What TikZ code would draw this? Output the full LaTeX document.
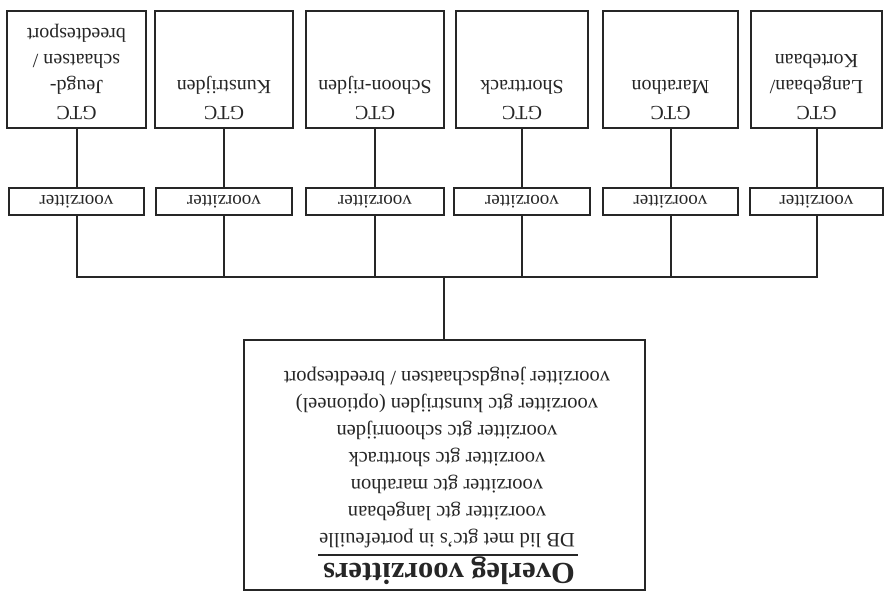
\documentclass[tikz,border=0pt]{standalone}
\usepackage{fontspec}
\setmainfont{Liberation Serif}
\definecolor{ink}{HTML}{262626}
\begin{document}
\begin{tikzpicture}[x=1pt,y=-1pt,
  box/.style={draw=ink, line width=2pt, inner sep=0pt},
  gtcbox/.style={box, minimum height=117pt},
  vzbox/.style={box, minimum height=27pt},
  conn/.style={draw=ink, line width=2pt},
  flip/.style={rotate=180, inner sep=0pt, align=center, text=ink, font=\fontsize{20}{26}\selectfont},
  bodytxt/.style={rotate=180, inner sep=0pt, align=center, text=ink, font=\fontsize{20.5}{27}\selectfont}]
\useasboundingbox (0,0) rectangle (884,592);
\fill[white] (0,0) rectangle (884,592);

% GTC boxes
\node[gtcbox, minimum width=139pt] (g1) at (76.5,69.5) {};
\node[gtcbox, minimum width=138pt] (g2) at (224,69.5) {};
\node[gtcbox, minimum width=138pt] (g3) at (375,69.5) {};
\node[gtcbox, minimum width=132pt] (g4) at (522,69.5) {};
\node[gtcbox, minimum width=135pt] (g5) at (670.5,69.5) {};
\node[gtcbox, minimum width=131pt] (g6) at (816.5,69.5) {};

\node[flip, anchor=north] (g1t) at (76.5,120) {GTC\\Jeugd-\\schaatsen /\\breedtesport};
\node[flip, anchor=north] (g2t) at (224,120) {GTC\\Kunstrijden};
\node[flip, anchor=north] (g3t) at (375,120) {GTC\\Schoon-rijden};
\node[flip, anchor=north] (g4t) at (522,120) {GTC\\Shorttrack};
\node[flip, anchor=north] (g5t) at (670.5,120) {GTC\\Marathon};
\node[flip, anchor=north] (g6t) at (816.5,120) {GTC\\Langebaan/\\Kortebaan};

% voorzitter boxes
\node[vzbox, minimum width=135pt] (v1) at (76.5,201.5) {};
\node[vzbox, minimum width=136pt] (v2) at (224,201.5) {};
\node[vzbox, minimum width=138pt] (v3) at (375,201.5) {};
\node[vzbox, minimum width=136pt] (v4) at (522,201.5) {};
\node[vzbox, minimum width=135pt] (v5) at (670.5,201.5) {};
\node[vzbox, minimum width=133pt] (v6) at (816.5,201.5) {};
\foreach \i in {1,...,6}{
  \node[bodytxt, font=\fontsize{19}{23}\selectfont] (v\i t) at (v\i) {voorzitter};
}

% connectors GTC -> voorzitter
\foreach \i in {1,...,6}{
  \draw[conn] (g\i.south) -- (v\i.north);
}

% overleg box
\node[box, minimum width=401pt, minimum height=250pt] (ov) at (444,465) {};
\node[bodytxt, anchor=north] (ovt) at (447,548.5) {DB lid met gtc's in portefeuille\\
voorzitter gtc langebaan\\
voorzitter gtc marathon\\
voorzitter gtc shorttrack\\
voorzitter gtc schoonrijden\\
voorzitter gtc kunstrijden (optioneel)\\
voorzitter jeugdschaatsen / breedtesport};
\node[rotate=180, inner sep=0pt, text=ink, anchor=base, font=\fontsize{30.5}{33}\selectfont\bfseries] (hd) at (449,563) {Overleg voorzitters};
\draw[ink, line width=2pt] (318,555) -- (578,555);

% bus
\coordinate (busL) at (v1.south |- 0,277);
\coordinate (busR) at (v6.south |- 0,277);
\draw[conn] (v1.south) -- (busL) -- (busR) -- (v6.south);
\foreach \i in {2,...,5}{
  \draw[conn] (v\i.south) -- (v\i.south |- busL);
}
\draw[conn] (ov.north) -- (ov.north |- busL);
\end{tikzpicture}
\end{document}
